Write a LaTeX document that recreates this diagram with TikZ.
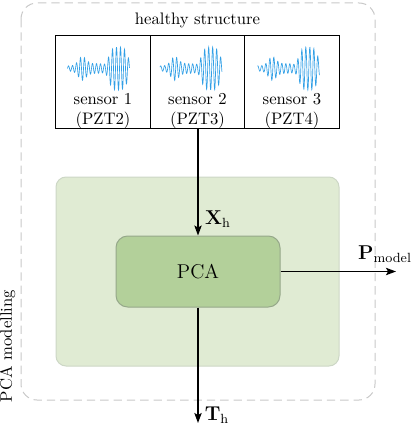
\documentclass[tikz,border=0pt]{standalone}
\usetikzlibrary{arrows.meta}
\definecolor{wave}{RGB}{50,160,230}
\definecolor{bggreen}{RGB}{224,235,211}
\definecolor{bgedge}{RGB}{205,215,198}
\definecolor{pcafill}{RGB}{179,208,154}
\definecolor{pcaedge}{RGB}{150,168,138}
\definecolor{dashgray}{RGB}{200,200,200}
\begin{document}
\begin{tikzpicture}[x=0.6pt,y=-0.6pt,
  outerbox/.style={draw=dashgray,dashed,dash pattern=on 5pt off 3pt,line width=0.6pt,rounded corners=9.6pt},
  sensorbox/.style={draw=black,line width=0.6pt,minimum width=56.6pt,minimum height=55.8pt,inner sep=0pt},
  sensortext/.style={align=center,inner sep=0pt,font=\normalsize,text depth=0pt},
  greenbg/.style={fill=bggreen,draw=bgedge,line width=0.6pt,rounded corners=6pt,minimum width=169.8pt,minimum height=113.4pt,inner sep=0pt},
  pcabox/.style={fill=pcafill,draw=pcaedge,line width=0.6pt,rounded corners=7pt,minimum width=98.4pt,minimum height=42.6pt,inner sep=0pt,font=\large},
  flow/.style={line width=0.75pt,-{Stealth[length=6pt,width=4.4pt,inset=1.2pt]}},
  flowlabel/.style={font=\large,inner sep=0pt},
  wavestyle/.style={draw=wave,line width=0.4pt}
]
\useasboundingbox (0,0) rectangle (414,428);
% outer dashed box
\draw[outerbox] (21,3) rectangle (375,400);
\node[rotate=90] (lbl) at (7.5,346) {PCA modelling};
\node (hs) at (197.5,20) {healthy structure};
% sensor boxes
\node[sensorbox] (s1) at (103,82.5) {};
\node[sensorbox] (s2) at (197.5,82.5) {};
\node[sensorbox] (s3) at (292,82.5) {};
\node[sensortext,anchor=south] (t1) at ([yshift=3pt]s1.south) {sensor 1\\(PZT2)};
\node[sensortext,anchor=south] (t2) at ([yshift=3pt]s2.south) {sensor 2\\(PZT3)};
\node[sensortext,anchor=south] (t3) at ([yshift=3pt]s3.south) {sensor 3\\(PZT4)};
% waveforms
\foreach \cx/\ph in {98.5/0,191/30,288.5/60}{
  \draw[wavestyle] plot[domain=0:1,samples=300,smooth] ({\cx-31+62*\x},
   {68.5 - 22*( 0.12 + 0.42*exp(-((\x-0.24)/0.09)^2) + 0.1*exp(-((\x-0.46)/0.14)^4) + 0.85*exp(-((\x-0.82)/0.17)^4) )*sin(360*15.5*\x+\ph)});
}
% green background
\node[greenbg] (bg) at (197.5,271.5) {};
\node[pcabox] (pca) at (198,271.5) {PCA};
\coordinate (pend) at (396,271.5);
\coordinate (tend) at (198,423);
\draw[flow] (s2.south -| pca.north) -- (pca.north);
\draw[flow] (pca.east) -- (pend);
\draw[flow] (pca.south) -- (tend);
\node[flowlabel] (xl) at (218,219) {$\mathbf{X}_\mathrm{h}$};
\node[flowlabel] (pl) at (385,254) {$\mathbf{P}_\mathrm{model}$};
\node[flowlabel] (tl) at (217,415) {$\mathbf{T}_\mathrm{h}$};
\end{tikzpicture}
\end{document}
